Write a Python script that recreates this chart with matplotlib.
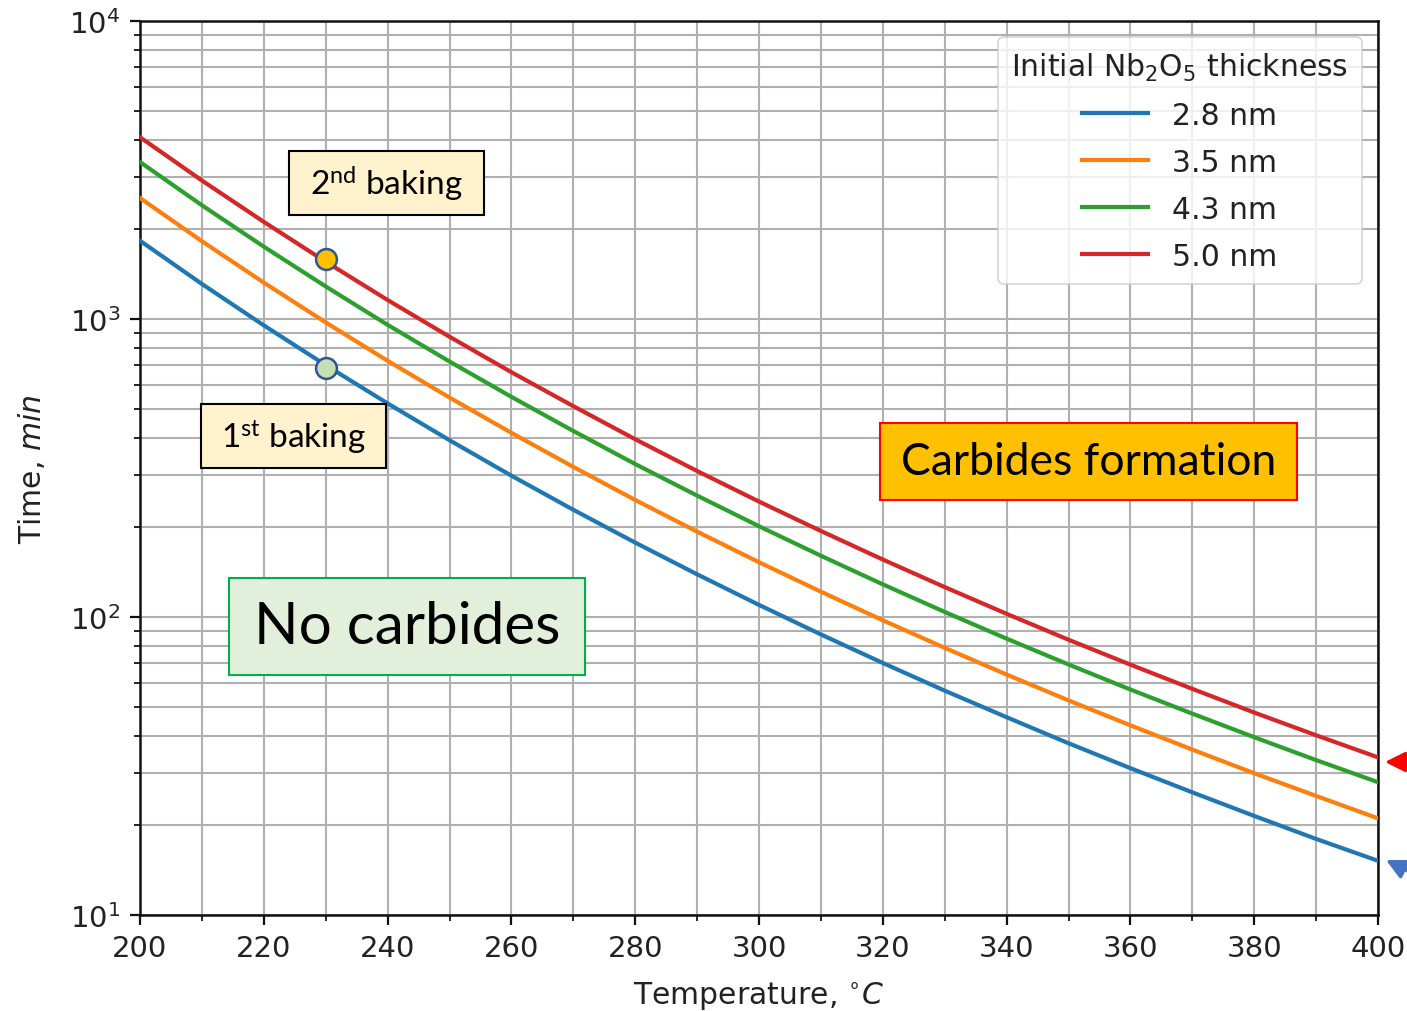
import matplotlib
matplotlib.use("Agg")
import matplotlib.pyplot as plt
import matplotlib.patches as mpatches
from matplotlib.ticker import LogLocator, MultipleLocator, NullFormatter

# ---- data ----
temperature = [200, 210, 220, 230, 240, 250, 260, 270, 280, 290, 300,
               310, 320, 330, 340, 350, 360, 370, 380, 390, 400]
time_28 = [1831, 1311, 952, 700, 521, 392, 298, 229, 177.7, 139.1, 109.8,
           87.4, 70.1, 56.6, 46.1, 37.7, 31.1, 25.8, 21.5, 18.0, 15.2]
time_35 = [2547, 1824, 1325, 974, 724, 545, 415, 319, 247, 193.4, 152.7,
           121.6, 97.5, 78.8, 64.1, 52.5, 43.3, 35.9, 29.9, 25.1, 21.1]
time_43 = [3364, 2408, 1749, 1286, 956, 720, 548, 421, 326, 255.5, 201.7,
           160.5, 128.7, 104.0, 84.6, 69.3, 57.1, 47.4, 39.5, 33.1, 27.9]
time_50 = [4074, 2916, 2118, 1557, 1158, 872, 663, 510, 395, 309, 244,
           194.4, 155.9, 126.0, 102.5, 83.9, 69.2, 57.4, 47.8, 40.1, 33.8]
series_labels = ["2.8 nm", "3.5 nm", "4.3 nm", "5.0 nm"]
series_colors = ["#1f77b4", "#ff7f0e", "#2ca02c", "#d62728"]

baking_T = [230, 230]
baking_time = [685, 1590]
baking_fill = ["#c5e0b4", "#ffc000"]

W, H = 1407, 1012

plt.rcParams["font.family"] = ["DejaVu Sans"]
plt.rcParams["mathtext.fontset"] = "dejavusans"
plt.rcParams["mathtext.rm"] = "Lato"
plt.rcParams["mathtext.it"] = "Lato:italic"
plt.rcParams["mathtext.bf"] = "Lato:bold"

fig = plt.figure(figsize=(W / 100, H / 100), dpi=100)
ax = fig.add_axes([140 / W, 1 - 916 / H, (1378 - 140) / W, (916 - 22) / H])

for y, lab, col in zip([time_28, time_35, time_43, time_50], series_labels, series_colors):
    ax.plot(temperature, y, color=col, lw=3, label=lab, zorder=3)

for t, v, fc in zip(baking_T, baking_time, baking_fill):
    ax.plot([t], [v], marker="o", ms=15, mfc=fc, mec="#2f5597", mew=1.8, zorder=5)

ax.set_yscale("log")
ax.set_xlim(200, 400)
ax.set_ylim(10, 10000)
ax.xaxis.set_major_locator(MultipleLocator(20))
ax.xaxis.set_minor_locator(MultipleLocator(10))
ax.yaxis.set_major_locator(LogLocator(base=10))
ax.yaxis.set_minor_locator(LogLocator(base=10, subs=range(2, 10)))
ax.yaxis.set_minor_formatter(NullFormatter())

ax.grid(True, which="both", color="#b0b0b0", lw=1.5, zorder=0)
ax.set_axisbelow(True)
for s in ax.spines.values():
    s.set_linewidth(1.8)
    s.set_color("#111111")
ax.tick_params(which="major", length=7, width=1.6, labelsize=21, pad=7,
               colors="#111111", labelcolor="#222222")
ax.tick_params(which="minor", length=4, width=1.2)

ax.set_xlabel(r"Temperature, $^{\circ}C$", fontsize=21.5, labelpad=12, color="#222222")
ax.set_ylabel(r"Time, $min$", fontsize=21.5, labelpad=16, color="#222222")

leg = ax.legend(title=r"Initial Nb$_2$O$_5$ thickness", loc="upper right",
                fontsize=21.5, title_fontsize=21.5, handlelength=2.2,
                borderaxespad=0.55, labelspacing=0.6, borderpad=0.45)
leg.get_frame().set_linewidth(1.2)
plt.setp(leg.get_texts(), color="#222222")
leg.get_title().set_color("#222222")


def box(x0, y0, x1, y1, fc, ec, text, size, lw=1.5):
    r = mpatches.Rectangle((x0 / W, 1 - y1 / H), (x1 - x0) / W, (y1 - y0) / H,
                           transform=fig.transFigure, facecolor=fc, edgecolor=ec,
                           lw=lw, zorder=10)
    fig.add_artist(r)
    fig.text((x0 + x1) / 2 / W, 1 - (y0 + y1) / 2 / H, text, ha="center", va="center",
             fontsize=size, family="Lato", math_fontfamily="custom", zorder=11)


box(289, 152, 484, 216, "#fff2cc", "black", r"2$^{\mathrm{nd}}$ baking", 24)
box(201, 405, 386, 469, "#fff2cc", "black", r"1$^{\mathrm{st}}$ baking", 24)
box(229, 579, 585, 676, "#e2efda", "#00b050", "No carbides", 42)
box(880, 424, 1297, 501, "#ffc000", "#ff0000", "Carbides formation", 32)

# arrows entering from the right edge
ax.annotate("", xy=(1385 / W, 1 - 763 / H), xytext=(1440 / W, 1 - 763 / H),
            xycoords="figure fraction", textcoords="figure fraction",
            arrowprops=dict(arrowstyle="-|>", color="#ff0000", lw=2.5,
                            mutation_scale=30, shrinkA=0, shrinkB=0),
            annotation_clip=False)
ax.annotate("", xy=(1386 / W, 1 - 861 / H), xytext=(1440 / W, 1 - 888 / H),
            xycoords="figure fraction", textcoords="figure fraction",
            arrowprops=dict(arrowstyle="-|>", color="#4472c4", lw=2.5,
                            mutation_scale=30, shrinkA=0, shrinkB=0),
            annotation_clip=False)

fig.savefig("out.png", dpi=100)
